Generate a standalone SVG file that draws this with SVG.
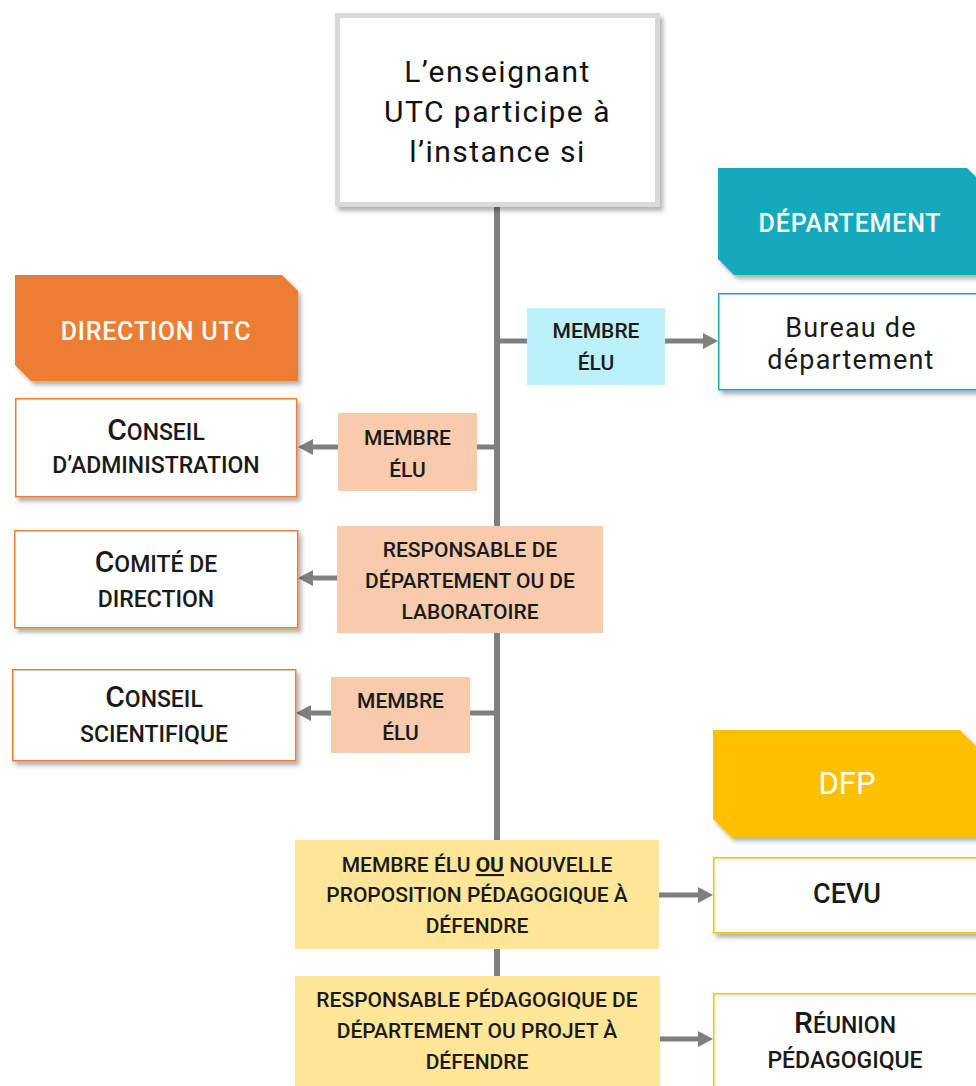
<svg xmlns="http://www.w3.org/2000/svg" width="976" height="1086" viewBox="0 0 976 1086">
<defs>
<filter id="sh" x="-10%" y="-10%" width="130%" height="140%">
<feDropShadow dx="3" dy="4" stdDeviation="2" flood-color="#000" flood-opacity="0.3"/>
</filter>
<marker id="arr" markerUnits="userSpaceOnUse" markerWidth="16" markerHeight="16" refX="3" refY="8" orient="auto">
<path d="M0,0 L15,8 L0,16 z" fill="#7f7f7f"/>
</marker>
<style>
text{font-family:Roboto,"Liberation Sans",sans-serif;fill:#1a1a1a;text-anchor:middle}
.lbl{font-size:21px;font-weight:500}
.big{font-size:30px}
.sc{font-size:23px;font-weight:500}
.lc{font-size:27px;letter-spacing:1.2px}
.hd{font-size:25px;font-weight:500;fill:#fff;letter-spacing:0.8px}
.top{font-size:30px;letter-spacing:1.5px;fill:#111}
.wb{fill:#fff;stroke-width:1.5}
.conn line{stroke:#7f7f7f;stroke-width:5;fill:none}
</style>
</defs>
<rect width="976" height="1086" fill="#fff"/>

<g class="conn" id="connectors">
<line x1="497" y1="205" x2="497" y2="978" style="stroke-width:6"/>
<line x1="497" y1="341" x2="528" y2="341"/>
<line x1="664" y1="341" x2="706" y2="341" marker-end="url(#arr)"/>
<line x1="499" y1="447" x2="476" y2="447"/>
<line x1="339" y1="447" x2="310" y2="447" marker-end="url(#arr)"/>
<line x1="338" y1="578" x2="310" y2="578" marker-end="url(#arr)"/>
<line x1="499" y1="713" x2="469" y2="713"/>
<line x1="332" y1="713" x2="308" y2="713" marker-end="url(#arr)"/>
<line x1="658" y1="895" x2="701" y2="895" marker-end="url(#arr)"/>
<line x1="658" y1="1039" x2="701" y2="1039" marker-end="url(#arr)"/>
</g>

<g id="top">
<rect x="337.5" y="15.5" width="320" height="189" fill="#fff" stroke="#d9d9d9" stroke-width="5" filter="url(#sh)"/>
<text class="top" x="497.5" y="82">L’enseignant</text>
<text class="top" x="497.5" y="122">UTC participe à</text>
<text class="top" x="497.5" y="162">l’instance si</text>
</g>

<g id="hdr-dept">
<polygon points="718,168 967,168 983,184 983,275 734,275 718,259" fill="#12a9be" filter="url(#sh)"/>
<text class="hd" x="850" y="232">DÉPARTEMENT</text>
</g>

<g id="bureau">
<rect class="wb" x="718.75" y="293.75" width="270" height="96" stroke="#12a9be" filter="url(#sh)"/>
<text class="lc" x="851" y="337">Bureau de</text>
<text class="lc" x="851" y="369">département</text>
</g>

<g id="lbl-dept">
<rect x="527" y="308" width="138" height="77" fill="#bdf1f9"/>
<text class="lbl" x="596" y="338">MEMBRE</text>
<text class="lbl" x="596" y="370">ÉLU</text>
</g>

<g id="hdr-dir">
<polygon points="15,275 282,275 298,291 298,381 31,381 15,365" fill="#ed7d31" filter="url(#sh)"/>
<text class="hd" x="156" y="340">DIRECTION UTC</text>
</g>

<g id="ca">
<rect class="wb" x="15.75" y="398.75" width="281" height="98" stroke="#ed7d31" filter="url(#sh)"/>
<text class="sc" x="156" y="440"><tspan class="big">C</tspan>ONSEIL</text>
<text class="sc" x="156" y="473">D’ADMINISTRATION</text>
</g>

<g id="lbl-ca">
<rect x="338" y="413" width="139" height="78" fill="#f8cbad"/>
<text class="lbl" x="407.5" y="445">MEMBRE</text>
<text class="lbl" x="407.5" y="477">ÉLU</text>
</g>

<g id="cd">
<rect class="wb" x="14.75" y="530.75" width="283" height="97" stroke="#ed7d31" filter="url(#sh)"/>
<text class="sc" x="156" y="572"><tspan class="big">C</tspan>OMITÉ DE</text>
<text class="sc" x="156" y="607">DIRECTION</text>
</g>

<g id="lbl-cd">
<rect x="337" y="526" width="266" height="107" fill="#f8cbad"/>
<text class="lbl" x="470" y="557">RESPONSABLE DE</text>
<text class="lbl" x="470" y="588">DÉPARTEMENT OU DE</text>
<text class="lbl" x="470" y="619">LABORATOIRE</text>
</g>

<g id="cs">
<rect class="wb" x="12.75" y="669.75" width="283" height="91" stroke="#ed7d31" filter="url(#sh)"/>
<text class="sc" x="154" y="707"><tspan class="big">C</tspan>ONSEIL</text>
<text class="sc" x="154" y="742">SCIENTIFIQUE</text>
</g>

<g id="lbl-cs">
<rect x="331" y="677" width="139" height="76" fill="#f8cbad"/>
<text class="lbl" x="400.5" y="708">MEMBRE</text>
<text class="lbl" x="400.5" y="740">ÉLU</text>
</g>

<g id="hdr-dfp">
<polygon points="713,730 960,730 978,748 978,837 731,837 713,819" fill="#ffc000" filter="url(#sh)"/>
<text x="847" y="794" style="font-size:31px;fill:#fff">DFP</text>
</g>

<g id="cevu">
<rect class="wb" x="713.75" y="857.75" width="275" height="75" stroke="#ffc000" filter="url(#sh)"/>
<text x="847" y="903" style="font-size:27px;font-weight:500">CEVU</text>
</g>

<g id="lbl-cevu">
<rect x="295" y="840" width="364" height="109" fill="#ffe699"/>
<text class="lbl" x="477" y="872">MEMBRE ÉLU <tspan style="font-weight:700;text-decoration:underline">OU</tspan> NOUVELLE</text>
<text class="lbl" x="477" y="902">PROPOSITION PÉDAGOGIQUE À</text>
<text class="lbl" x="477" y="933">DÉFENDRE</text>
</g>

<g id="lbl-reunion">
<rect x="295" y="976" width="365" height="110" fill="#ffe699"/>
<text class="lbl" x="477" y="1007">RESPONSABLE PÉDAGOGIQUE DE</text>
<text class="lbl" x="477" y="1038">DÉPARTEMENT OU PROJET À</text>
<text class="lbl" x="477" y="1069">DÉFENDRE</text>
</g>

<g id="reunion">
<rect class="wb" x="713.75" y="993.75" width="275" height="100" stroke="#ffc000" filter="url(#sh)"/>
<text class="sc" x="845" y="1033"><tspan class="big">R</tspan>ÉUNION</text>
<text class="sc" x="845" y="1068">PÉDAGOGIQUE</text>
</g>
</svg>
